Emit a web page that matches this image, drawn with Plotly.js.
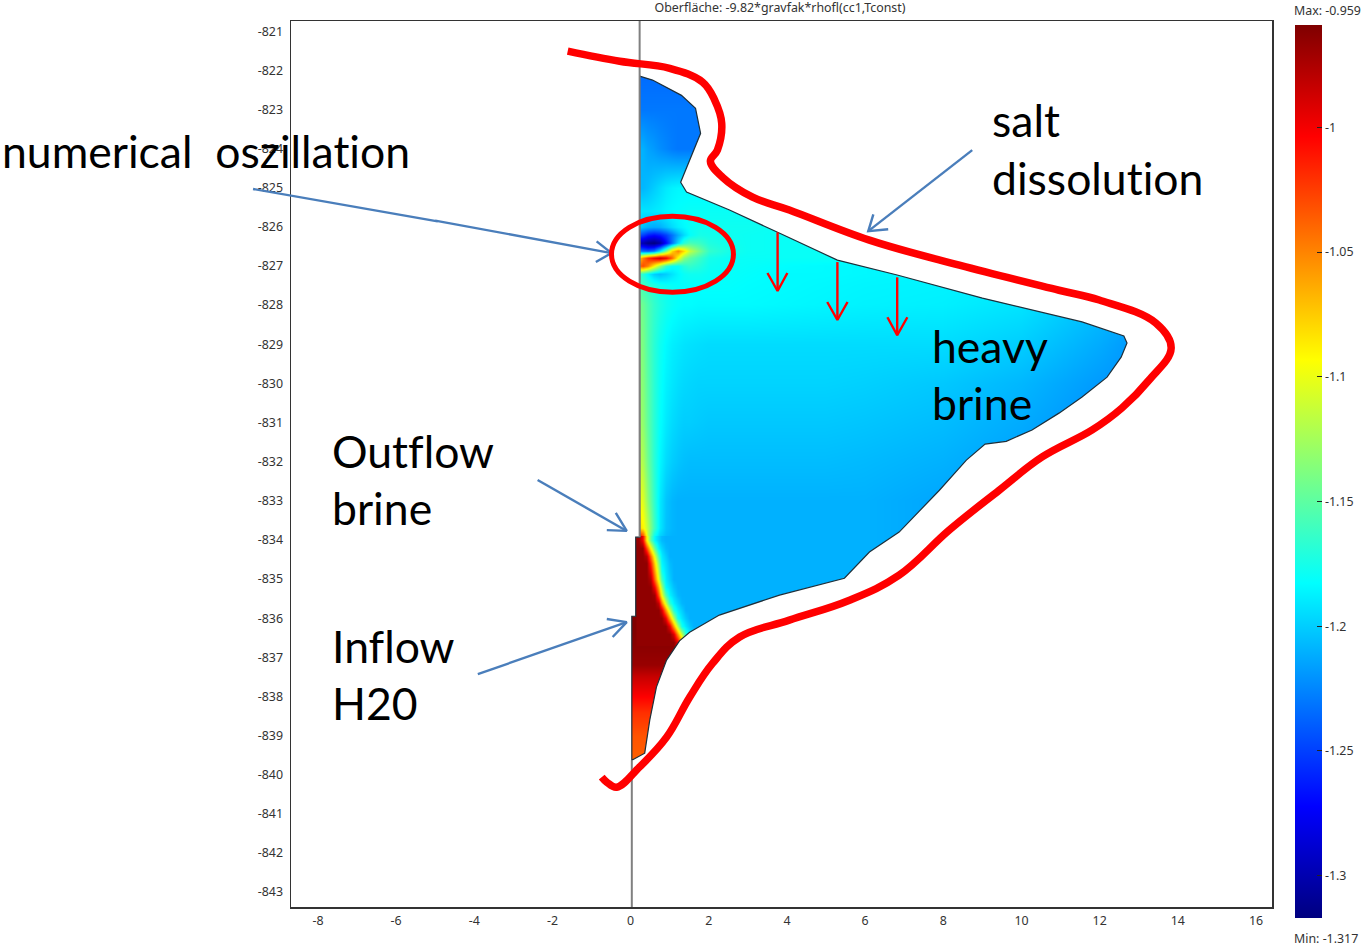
<!DOCTYPE html>
<html>
<head>
<meta charset="utf-8">
<script src="https://cdn.plot.ly/plotly-3.0.1.min.js"></script>
<style>html,body{margin:0;padding:0;background:#fff}#chart{width:1366px;height:947px}
svg text{font-variant-ligatures:none !important;font-feature-settings:"liga" 0,"clig" 0,"dlig" 0 !important;text-rendering:optimizeSpeed !important}</style>
</head>
<body>
<div id="chart"></div>
<script>
const xNodes = [0,0.2,0.3,0.45,0.6,0.75,0.9,1.05,1.2,1.35,1.5,1.75,2,2.5,3,4,5,6,8,10,12,13];
const yNodes = [-822,-823,-824,-825,-825.6,-826,-826.2,-826.4,-826.6,-826.8,-827,-827.2,-827.5,-828,-829,-830,-831,-832,-833,-833.7,-834,-834.4,-834.8,-835.2,-835.6,-836,-836.3,-836.6,-837.2,-837.5,-837.9,-838.4,-839,-840];
const fieldValues = [
[-1.235,-1.235,-1.235,-1.235,-1.235,-1.235,-1.235,-1.235,-1.235,-1.235,-1.235,-1.235,-1.235,-1.19,-1.19,-1.19,-1.19,-1.19,-1.19,-1.19,-1.19,-1.19],
[-1.23,-1.23,-1.23,-1.23,-1.23,-1.23,-1.23,-1.23,-1.23,-1.23,-1.23,-1.23,-1.23,-1.19,-1.19,-1.19,-1.19,-1.19,-1.19,-1.19,-1.19,-1.19],
[-1.21,-1.21,-1.21,-1.215,-1.218,-1.222,-1.225,-1.228,-1.23,-1.23,-1.23,-1.23,-1.23,-1.19,-1.19,-1.19,-1.19,-1.19,-1.19,-1.19,-1.19,-1.19],
[-1.208,-1.208,-1.208,-1.205,-1.2,-1.195,-1.19,-1.187,-1.185,-1.185,-1.185,-1.185,-1.185,-1.185,-1.185,-1.185,-1.185,-1.185,-1.185,-1.185,-1.185,-1.185],
[-1.19,-1.19,-1.192,-1.192,-1.19,-1.188,-1.185,-1.183,-1.182,-1.181,-1.18,-1.18,-1.18,-1.18,-1.18,-1.18,-1.18,-1.18,-1.18,-1.18,-1.18,-1.18],
[-1.2,-1.2,-1.205,-1.21,-1.212,-1.21,-1.203,-1.195,-1.188,-1.184,-1.18,-1.178,-1.178,-1.178,-1.178,-1.18,-1.18,-1.18,-1.18,-1.18,-1.18,-1.18],
[-1.245,-1.245,-1.25,-1.262,-1.268,-1.262,-1.25,-1.232,-1.212,-1.195,-1.182,-1.175,-1.176,-1.178,-1.179,-1.18,-1.18,-1.18,-1.18,-1.18,-1.18,-1.18],
[-1.295,-1.295,-1.3,-1.312,-1.317,-1.305,-1.27,-1.232,-1.195,-1.168,-1.158,-1.162,-1.172,-1.177,-1.179,-1.18,-1.18,-1.18,-1.18,-1.18,-1.18,-1.18],
[-1.22,-1.225,-1.235,-1.24,-1.23,-1.19,-1.14,-1.08,-1.05,-1.08,-1.115,-1.14,-1.165,-1.175,-1.179,-1.18,-1.18,-1.18,-1.18,-1.18,-1.18,-1.18],
[-1.08,-1.08,-1.05,-1.02,-1.0,-0.985,-1.0,-1.04,-1.095,-1.135,-1.15,-1.162,-1.175,-1.18,-1.18,-1.18,-1.18,-1.18,-1.18,-1.18,-1.18,-1.18],
[-1.04,-1.04,-1.03,-1.05,-1.09,-1.13,-1.165,-1.18,-1.18,-1.17,-1.165,-1.17,-1.178,-1.18,-1.181,-1.183,-1.184,-1.185,-1.186,-1.186,-1.19,-1.19],
[-1.16,-1.16,-1.17,-1.185,-1.2,-1.205,-1.2,-1.192,-1.185,-1.18,-1.178,-1.178,-1.18,-1.181,-1.182,-1.184,-1.184,-1.185,-1.186,-1.187,-1.19,-1.19],
[-1.155,-1.155,-1.16,-1.165,-1.17,-1.175,-1.178,-1.18,-1.182,-1.182,-1.182,-1.182,-1.182,-1.182,-1.183,-1.184,-1.185,-1.186,-1.187,-1.188,-1.2,-1.2],
[-1.14,-1.14,-1.145,-1.155,-1.165,-1.172,-1.177,-1.18,-1.182,-1.183,-1.183,-1.184,-1.184,-1.184,-1.184,-1.185,-1.186,-1.187,-1.188,-1.192,-1.205,-1.212],
[-1.135,-1.135,-1.14,-1.155,-1.168,-1.178,-1.184,-1.188,-1.19,-1.192,-1.193,-1.194,-1.195,-1.195,-1.195,-1.195,-1.195,-1.195,-1.195,-1.2,-1.212,-1.22],
[-1.13,-1.13,-1.136,-1.152,-1.168,-1.18,-1.187,-1.191,-1.194,-1.196,-1.197,-1.198,-1.198,-1.198,-1.198,-1.198,-1.198,-1.199,-1.202,-1.208,-1.218,-1.222],
[-1.125,-1.125,-1.132,-1.15,-1.168,-1.182,-1.19,-1.195,-1.198,-1.2,-1.2,-1.201,-1.202,-1.202,-1.202,-1.202,-1.202,-1.203,-1.206,-1.212,-1.222,-1.225],
[-1.115,-1.115,-1.122,-1.145,-1.168,-1.185,-1.195,-1.2,-1.203,-1.205,-1.206,-1.206,-1.206,-1.206,-1.206,-1.206,-1.206,-1.207,-1.21,-1.216,-1.225,-1.228],
[-1.095,-1.095,-1.105,-1.135,-1.165,-1.19,-1.203,-1.208,-1.21,-1.21,-1.21,-1.21,-1.21,-1.21,-1.21,-1.21,-1.21,-1.21,-1.214,-1.22,-1.226,-1.23],
[-1.08,-1.08,-1.09,-1.12,-1.16,-1.19,-1.204,-1.208,-1.21,-1.21,-1.21,-1.21,-1.21,-1.21,-1.21,-1.21,-1.21,-1.21,-1.214,-1.22,-1.226,-1.23],
[-0.968,-0.968,-1.0,-1.12,-1.185,-1.202,-1.208,-1.21,-1.21,-1.21,-1.21,-1.21,-1.21,-1.21,-1.21,-1.21,-1.21,-1.21,-1.214,-1.22,-1.226,-1.23],
[-0.96,-0.96,-0.96,-0.965,-1.085,-1.165,-1.195,-1.208,-1.21,-1.21,-1.21,-1.21,-1.21,-1.21,-1.21,-1.21,-1.21,-1.21,-1.214,-1.22,-1.226,-1.23],
[-0.96,-0.96,-0.96,-0.96,-0.97,-1.09,-1.19,-1.205,-1.21,-1.21,-1.21,-1.21,-1.21,-1.21,-1.21,-1.21,-1.21,-1.21,-1.214,-1.22,-1.226,-1.23],
[-0.96,-0.96,-0.96,-0.96,-0.962,-1.04,-1.19,-1.208,-1.21,-1.21,-1.21,-1.21,-1.21,-1.21,-1.21,-1.21,-1.21,-1.21,-1.214,-1.22,-1.226,-1.23],
[-0.96,-0.96,-0.96,-0.96,-0.96,-0.962,-1.03,-1.18,-1.205,-1.21,-1.21,-1.21,-1.21,-1.21,-1.21,-1.21,-1.21,-1.21,-1.214,-1.22,-1.226,-1.23],
[-0.96,-0.96,-0.96,-0.96,-0.96,-0.96,-0.96,-0.98,-1.18,-1.205,-1.21,-1.21,-1.21,-1.21,-1.21,-1.21,-1.21,-1.21,-1.214,-1.22,-1.226,-1.23],
[-0.96,-0.96,-0.96,-0.96,-0.96,-0.96,-0.96,-0.962,-1.0,-1.19,-1.208,-1.21,-1.21,-1.21,-1.21,-1.21,-1.21,-1.21,-1.214,-1.22,-1.226,-1.23],
[-0.962,-0.962,-0.962,-0.962,-0.962,-0.962,-0.962,-0.962,-0.97,-1.1,-1.2,-1.21,-1.21,-1.21,-1.21,-1.21,-1.21,-1.21,-1.214,-1.22,-1.226,-1.23],
[-0.968,-0.968,-0.968,-0.968,-0.968,-0.968,-0.968,-0.968,-0.968,-0.968,-0.968,-0.968,-0.968,-0.968,-0.968,-0.968,-0.968,-0.968,-0.968,-0.968,-0.968,-0.968],
[-0.985,-0.985,-0.985,-0.985,-0.985,-0.985,-0.985,-0.985,-0.985,-0.985,-0.985,-0.985,-0.985,-0.985,-0.985,-0.985,-0.985,-0.985,-0.985,-0.985,-0.985,-0.985],
[-1.0,-1.0,-1.0,-1.0,-1.0,-1.0,-1.0,-1.0,-1.0,-1.0,-1.0,-1.0,-1.0,-1.0,-1.0,-1.0,-1.0,-1.0,-1.0,-1.0,-1.0,-1.0],
[-1.02,-1.02,-1.02,-1.02,-1.02,-1.02,-1.02,-1.02,-1.02,-1.02,-1.02,-1.02,-1.02,-1.02,-1.02,-1.02,-1.02,-1.02,-1.02,-1.02,-1.02,-1.02],
[-1.033,-1.033,-1.033,-1.033,-1.033,-1.033,-1.033,-1.033,-1.033,-1.033,-1.033,-1.033,-1.033,-1.033,-1.033,-1.033,-1.033,-1.033,-1.033,-1.033,-1.033,-1.033],
[-1.04,-1.04,-1.04,-1.04,-1.04,-1.04,-1.04,-1.04,-1.04,-1.04,-1.04,-1.04,-1.04,-1.04,-1.04,-1.04,-1.04,-1.04,-1.04,-1.04,-1.04,-1.04]
];
const frontX = [0.2,0.3,0.4,0.5,0.6,0.7,0.8,0.9,1.0,1.1,1.2,1.3,1.4,1.5,1.6,1.7];
const frontY = [-834,-834.2,-834.4,-834.6,-834.8,-835,-835.2,-835.4,-835.6,-835.8,-836,-836.2,-836.4,-836.6];
const frontValues = [
[-0.968,-1.0,-1.09,-1.15,-1.185,-1.198,-1.207,-1.21,-1.21,-1.21,-1.21,-1.21,-1.21,-1.21,-1.21,-1.21],
[-0.965,-0.965,-1.029,-1.093,-1.149,-1.187,-1.197,-1.207,-1.21,-1.21,-1.21,-1.21,-1.21,-1.21,-1.21,-1.21],
[-0.965,-0.965,-0.978,-1.042,-1.104,-1.161,-1.189,-1.2,-1.21,-1.21,-1.21,-1.21,-1.21,-1.21,-1.21,-1.21],
[-0.965,-0.965,-0.965,-1.016,-1.08,-1.138,-1.185,-1.195,-1.206,-1.21,-1.21,-1.21,-1.21,-1.21,-1.21,-1.21],
[-0.965,-0.965,-0.965,-0.997,-1.061,-1.121,-1.177,-1.192,-1.203,-1.21,-1.21,-1.21,-1.21,-1.21,-1.21,-1.21],
[-0.965,-0.965,-0.965,-0.978,-1.042,-1.104,-1.16,-1.189,-1.2,-1.21,-1.21,-1.21,-1.21,-1.21,-1.21,-1.21],
[-0.965,-0.965,-0.965,-0.965,-1.003,-1.067,-1.127,-1.183,-1.193,-1.204,-1.21,-1.21,-1.21,-1.21,-1.21,-1.21],
[-0.965,-0.965,-0.965,-0.965,-0.971,-1.035,-1.099,-1.155,-1.186,-1.197,-1.207,-1.21,-1.21,-1.21,-1.21,-1.21],
[-0.965,-0.965,-0.965,-0.965,-0.965,-0.984,-1.048,-1.11,-1.166,-1.188,-1.198,-1.208,-1.21,-1.21,-1.21,-1.21],
[-0.965,-0.965,-0.965,-0.965,-0.965,-0.965,-0.991,-1.055,-1.115,-1.172,-1.189,-1.199,-1.21,-1.21,-1.21,-1.21],
[-0.965,-0.965,-0.965,-0.965,-0.965,-0.965,-0.965,-0.997,-1.061,-1.121,-1.177,-1.191,-1.202,-1.21,-1.21,-1.21],
[-0.965,-0.965,-0.965,-0.965,-0.965,-0.965,-0.965,-0.965,-0.997,-1.061,-1.121,-1.177,-1.191,-1.202,-1.21,-1.21],
[-0.965,-0.965,-0.965,-0.965,-0.965,-0.965,-0.965,-0.965,-0.965,-0.991,-1.055,-1.115,-1.172,-1.189,-1.2,-1.21],
[-0.965,-0.965,-0.965,-0.965,-0.965,-0.965,-0.965,-0.965,-0.965,-0.965,-0.997,-1.061,-1.121,-1.177,-1.19,-1.2]
];
const domainX = [0.23,0.56,1.30,1.66,1.79,1.69,1.28,1.43,2.53,3.76,5.29,6.82,8.15,9.0,11.55,12.62,12.70,12.55,12.19,11.55,10.96,10.27,9.61,9.07,8.59,7.90,6.87,6.11,5.47,3.81,2.27,1.51,1.25,0.92,0.66,0.49,0.36,0.18,0.03,0.03,0.13,0.13,0.23,0.23];
const domainY = [-822.15,-822.25,-822.64,-822.97,-823.61,-823.86,-824.86,-825.11,-825.57,-826.14,-826.85,-827.23,-827.59,-827.82,-828.43,-828.79,-828.97,-829.33,-829.84,-830.35,-830.76,-831.19,-831.48,-831.55,-831.96,-832.73,-833.80,-834.31,-834.98,-835.41,-835.92,-836.36,-836.58,-837.07,-837.76,-838.60,-839.45,-839.55,-839.63,-835.95,-835.95,-833.93,-833.93,-822.15];
const maskOuterX = [-1,-1,15,15,-1];
const maskOuterY = [-821,-841.5,-841.5,-821,-821];
const curveX = [-1.61,-0.28,1.00,1.84,2.15,2.33,2.22,2.04,2.35,3.12,4.06,6.11,8.41,10.96,11.99,13.44,13.83,13.26,12.57,11.81,10.53,9.43,8.15,6.87,5.60,4.06,2.79,2.10,1.51,0.92,0.23,-0.36,-0.61,-0.74];
const curveY = [-821.51,-821.77,-821.95,-822.30,-822.76,-823.35,-824.04,-824.32,-824.73,-825.24,-825.57,-826.34,-826.98,-827.62,-827.87,-828.46,-829.10,-829.92,-830.63,-831.19,-831.88,-832.73,-833.75,-834.90,-835.54,-836.05,-836.48,-837.15,-838.02,-839.04,-839.80,-840.32,-840.19,-840.06];
const axisLineX = [0.23,0.23,null,0.03,0.03];
const axisLineY = [-820.74,-833.93,null,-839.63,-843.38];
const blueArrowX = [-5,-0.49,null,-0.87,-0.49,-0.89,null,8.74,6.08,null,6.21,6.08,6.59,null,-2.38,-0.10,null,-0.61,-0.10,-0.38,null,-3.91,-0.10,null,-0.61,-0.10,-0.46];
const blueArrowY = [-825.84,-826.67,null,-826.37,-826.67,-826.90,null,-824.04,-826.11,null,-825.68,-826.11,-826.06,null,-832.47,-833.77,null,-833.75,-833.77,-833.31,null,-837.43,-836.10,null,-836.02,-836.10,-836.48];
const redArrowX = [3.76,3.76,null,3.50,3.76,4.01,null,5.29,5.29,null,5.03,5.29,5.55,null,6.82,6.82,null,6.57,6.82,7.08];
const redArrowY = [-826.14,-827.64,null,-827.18,-827.64,-827.18,null,-826.90,-828.38,null,-827.92,-828.38,-827.92,null,-827.29,-828.77,null,-828.31,-828.77,-828.31];
const xTicks = [-8,-6,-4,-2,0,2,4,6,8,10,12,14,16];
const yTicks = [-821,-822,-823,-824,-825,-826,-827,-828,-829,-830,-831,-832,-833,-834,-835,-836,-837,-838,-839,-840,-841,-842,-843];
const colorTicks = [-1,-1.05,-1.1,-1.15,-1.2,-1.25,-1.3];
const colorTickText = ['-1','-1.05','-1.1','-1.15','-1.2','-1.25','-1.3'];
const jet = [[0,'#00007f'],[0.125,'#0000ff'],[0.375,'#00ffff'],[0.625,'#ffff00'],[0.875,'#ff0000'],[1,'#7f0000']];

const smallFont = {family:'"Noto Sans", Tahoma, sans-serif', size:12.4, color:'#333'};
const bigFont = {family:'Lato, Carlito, sans-serif', size:44.5, color:'#000'};
const labels = [
 ['salt',9.22,-823.26],['dissolution',9.22,-824.75],['heavy',7.69,-829.04],['brine',7.69,-830.5],
 ['Outflow',-7.67,-831.72],['brine',-7.67,-833.18],['Inflow',-7.67,-836.7],['H20',-7.67,-838.16]
];
const annotations = labels.map(l=>({text:l[0],x:l[1],y:l[2],xref:'x',yref:'y',xanchor:'left',yanchor:'middle',showarrow:false,font:bigFont,borderpad:0}));
annotations.push({text:'numerical\u00a0 oszillation',x:-0.2953,y:0.8535,xref:'paper',yref:'paper',xanchor:'left',yanchor:'middle',showarrow:false,font:bigFont,borderpad:0});
annotations.push({text:'Max: -0.959',x:1.0214,y:1.0113,xref:'paper',yref:'paper',xanchor:'left',yanchor:'middle',showarrow:false,font:smallFont,borderpad:0});
annotations.push({text:'Min: -1.317',x:1.0214,y:-0.0361,xref:'paper',yref:'paper',xanchor:'left',yanchor:'middle',showarrow:false,font:smallFont,borderpad:0});

const traces = [
 {type:'heatmap',x:xNodes,y:yNodes,z:fieldValues,zmin:-1.317,zmax:-0.959,zsmooth:'best',colorscale:jet,
  colorbar:{x:1.0234,xanchor:'left',y:0.4915,yanchor:'middle',lenmode:'pixels',len:893,thicknessmode:'pixels',thickness:27,
   xpad:0,ypad:0,outlinewidth:0,tickmode:'array',tickvals:colorTicks,ticktext:colorTickText,ticks:'inside',ticklen:5,tickcolor:'#222',tickfont:smallFont}},
 {type:'heatmap',x:frontX,y:frontY,z:frontValues,zmin:-1.317,zmax:-0.959,zsmooth:'best',colorscale:jet,showscale:false},
 {type:'scatter',mode:'lines',x:maskOuterX.concat([null],domainX),y:maskOuterY.concat([null],domainY),fill:'toself',fillcolor:'#fff',line:{width:0},hoverinfo:'skip'},
 {type:'scatter',mode:'lines',x:domainX,y:domainY,line:{color:'#1e2f3a',width:1.2},hoverinfo:'skip'},
 {type:'scatter',mode:'lines',x:axisLineX,y:axisLineY,line:{color:'#808080',width:2},hoverinfo:'skip'},
 {type:'scatter',mode:'lines',x:curveX,y:curveY,line:{color:'#ff0000',width:7.5,shape:'spline',smoothing:1.1},hoverinfo:'skip'},
 {type:'scatter',mode:'lines',x:blueArrowX,y:blueArrowY,line:{color:'#4a7ebb',width:2.4},connectgaps:false,hoverinfo:'skip'},
 {type:'scatter',mode:'lines',x:redArrowX,y:redArrowY,line:{color:'#ff0000',width:2.4},connectgaps:false,hoverinfo:'skip'}
];
const axisCommon = {showgrid:false,zeroline:false,showline:true,mirror:true,linecolor:'#333',linewidth:1.5,ticks:'outside',tickcolor:'rgba(0,0,0,0)',tickfont:smallFont,tickmode:'array'};
const layout = {
 width:1366,height:947,margin:{l:291,r:94,t:21,b:40,pad:0,autoexpand:false},paper_bgcolor:'#fff',plot_bgcolor:'#fff',showlegend:false,
 title:{text:'Oberfläche: -9.82*gravfak*rhofl(cc1,Tconst)',x:780/1366,xref:'container',xanchor:'center',y:1-8/947,yref:'container',yanchor:'middle',font:smallFont},
 xaxis:Object.assign({},axisCommon,{ticklen:2,range:[-8.69,16.41],tickvals:xTicks,ticktext:xTicks.map(String)}),
 yaxis:Object.assign({},axisCommon,{ticklen:4,range:[-843.38,-820.74],tickvals:yTicks,ticktext:yTicks.map(String)}),
 annotations:annotations,
 shapes:[
  {type:'circle',xref:'x',yref:'y',x0:-0.49,x1:2.63,y0:-825.73,y1:-827.67,line:{color:'#ff0000',width:5}},
  {type:'line',xref:'paper',yref:'paper',x0:-0.0387,y0:0.8104,x1:0.1495,y1:0.7738,line:{color:'#4a7ebb',width:2.4}}
 ]
};
Plotly.newPlot('chart',traces,layout,{displayModeBar:false,staticPlot:true});
</script>
</body>
</html>
